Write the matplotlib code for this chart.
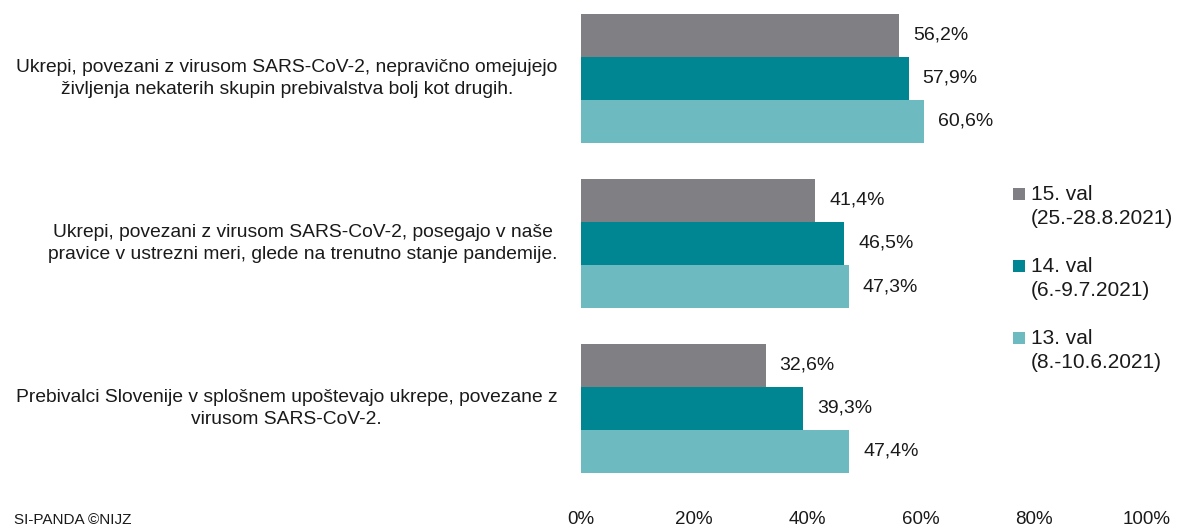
import matplotlib
matplotlib.use("Agg")
import matplotlib.pyplot as plt
from matplotlib.patches import Rectangle
import numpy as np

plt.rcParams['font.family'] = ['Liberation Sans', 'DejaVu Sans']

# data
categories = [
    "Ukrepi, povezani z virusom SARS-CoV-2, nepravično omejujejo\nživljenja nekaterih skupin prebivalstva bolj kot drugih.",
    "Ukrepi, povezani z virusom SARS-CoV-2, posegajo v naše\npravice v ustrezni meri, glede na trenutno stanje pandemije.",
    "Prebivalci Slovenije v splošnem upoštevajo ukrepe, povezane z\nvirusom SARS-CoV-2.",
]
val15 = [56.2, 41.4, 32.6]
val14 = [57.9, 46.5, 39.3]
val13 = [60.6, 47.3, 47.4]
series_labels = ["15. val\n(25.-28.8.2021)", "14. val\n(6.-9.7.2021)", "13. val\n(8.-10.6.2021)"]
colors = ["#808084", "#008592", "#6dbbc0"]
xticks = [0, 20, 40, 60, 80, 100]

W, H = 1181, 529
fig = plt.figure(figsize=(W / 100, H / 100), dpi=100)
ax = fig.add_axes([581 / W, 1 - 500 / H, (1147 - 581) / W, 500 / H])

y = np.arange(len(categories))
h = 43 / 165
series = [val15, val14, val13]
for i, (vals, c) in enumerate(zip(series, colors)):
    pos = y + (i - 1) * h
    ax.barh(pos, vals, height=h, color=c, edgecolor='none')
    for p, v in zip(pos, vals):
        ax.annotate(f"{v:.1f}%".replace(".", ","), (v, p), xytext=(10, 0),
                    textcoords='offset points', va='center', ha='left',
                    fontsize=14, color='#1a1a1a')

ax.set_xlim(0, 100)
ax.set_ylim((500 - 78.5) / 165, -78.5 / 165)
ax.set_xticks(xticks)
ax.set_xticklabels([f"{t}%" for t in xticks], fontsize=13.5, color='#1a1a1a')
ax.tick_params(axis='x', length=0, pad=8)
ax.set_yticks([])
for s in ax.spines.values():
    s.set_visible(False)

for yy, cat in zip(y, categories):
    ax.annotate(cat, (0, yy), xytext=(-17, 0), textcoords='offset points',
                ha='right', va='center', multialignment='center',
                fontsize=13.9, linespacing=1.38, color='#1a1a1a')

# legend drawn by hand
for i, (lab, c) in enumerate(zip(series_labels, colors)):
    yc = 194 + i * 72
    fig.add_artist(Rectangle((1013 / W, 1 - (yc + 6) / H), 12 / W, 12 / H,
                             transform=fig.transFigure, color=c, lw=0))
    fig.text(1031 / W, 1 - (yc - 9) / H, lab, ha='left', va='top',
             fontsize=15, linespacing=1.3, color='#1a1a1a')

fig.text(14 / W, 1 - 527 / H, "SI-PANDA ©NIJZ", ha='left', va='bottom',
         fontsize=11, color='#1a1a1a')

fig.savefig("out.png", dpi=100)
